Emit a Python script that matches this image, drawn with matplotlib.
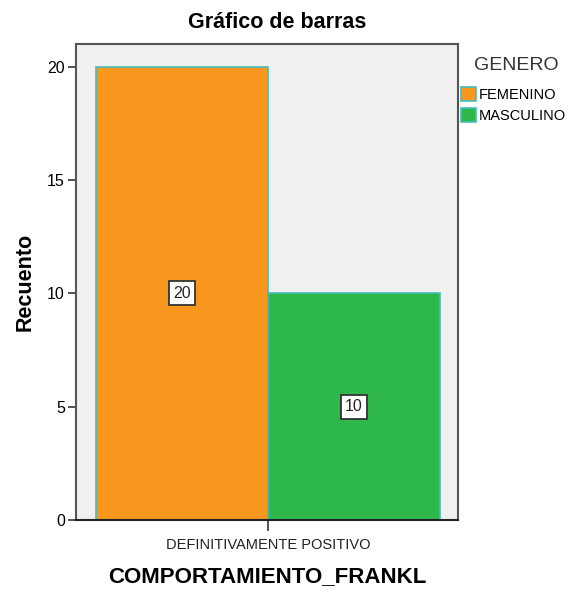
import matplotlib
matplotlib.use("Agg")
import matplotlib.pyplot as plt
from matplotlib.patches import Patch
from matplotlib import font_manager as fm

categories = ["DEFINITIVAMENTE POSITIVO"]
groups = ["FEMENINO", "MASCULINO"]
counts = [20, 10]
colors = ["#F7971E", "#2EB84A"]
edge = "#45BDBE"

avail = {f.name for f in fm.fontManager.ttflist}
narrow = "Liberation Sans Narrow" if "Liberation Sans Narrow" in avail else "Liberation Sans"
plt.rcParams["font.family"] = ["Liberation Sans", "DejaVu Sans"]

W, H = 573, 592
fig = plt.figure(figsize=(W/100, H/100), dpi=100)
ax = fig.add_axes([76/W, 1-520/H, (458-76)/W, (520-44)/H])
ax.set_facecolor("#F0F0F0")

offsets = [-0.5, 0.5]
for g, c, col, off in zip(groups, counts, colors, offsets):
    ax.bar(0 + off, c, width=1.0, color=col, edgecolor=edge, linewidth=1.2, label=g, zorder=2)
    ax.text(0 + off, c / 2, str(c), ha="center", va="center", fontsize=11.5, color="#222222",
            family=narrow,
            bbox=dict(boxstyle="square,pad=0.28", facecolor="white", edgecolor="#333333", linewidth=1.3),
            zorder=3)

ax.set_xlim(-1.116, 1.105)
ax.set_ylim(0, 21)
ax.set_yticks([0, 5, 10, 15, 20])
ax.set_xticks([0])
ax.set_xticklabels(categories, fontsize=10.5, family=narrow, color="#222222")
ax.tick_params(axis="y", direction="out", length=6, width=1.2, labelsize=11.5, pad=2, color="#333333")
ax.tick_params(axis="x", direction="out", length=8, width=1.2, pad=5, color="#333333")
for s in ax.spines.values():
    s.set_color("#555555")
    s.set_linewidth(1.5)
ax.spines["bottom"].set_color("#222222")

fig.text(0.483, 1-22/H, "Gráfico de barras", ha="center", va="center", fontsize=15.5, fontweight="bold")
fig.text(25/W, 1-282/H, "Recuento", ha="center", va="center", rotation=90, fontsize=15.5, fontweight="bold")
fig.text(267/W, 1-577/H, "COMPORTAMIENTO_FRANKL", ha="center", va="center", fontsize=16, fontweight="bold")

fig.text(474/W, 1-65/H, "GENERO", ha="left", va="center", fontsize=14, color="#333333", family=narrow)
handles = [Patch(facecolor=col, edgecolor=edge, linewidth=1.2) for col in colors]
leg = fig.legend(handles, groups, loc="upper left", bbox_to_anchor=(461/W, 1-87/H),
                 frameon=False, handlelength=1.05, handleheight=1.05, handletextpad=0.15,
                 labelspacing=0.45, borderpad=0, borderaxespad=0,
                 prop={"family": narrow, "size": 10.5})

fig.savefig("out.png", dpi=100)
